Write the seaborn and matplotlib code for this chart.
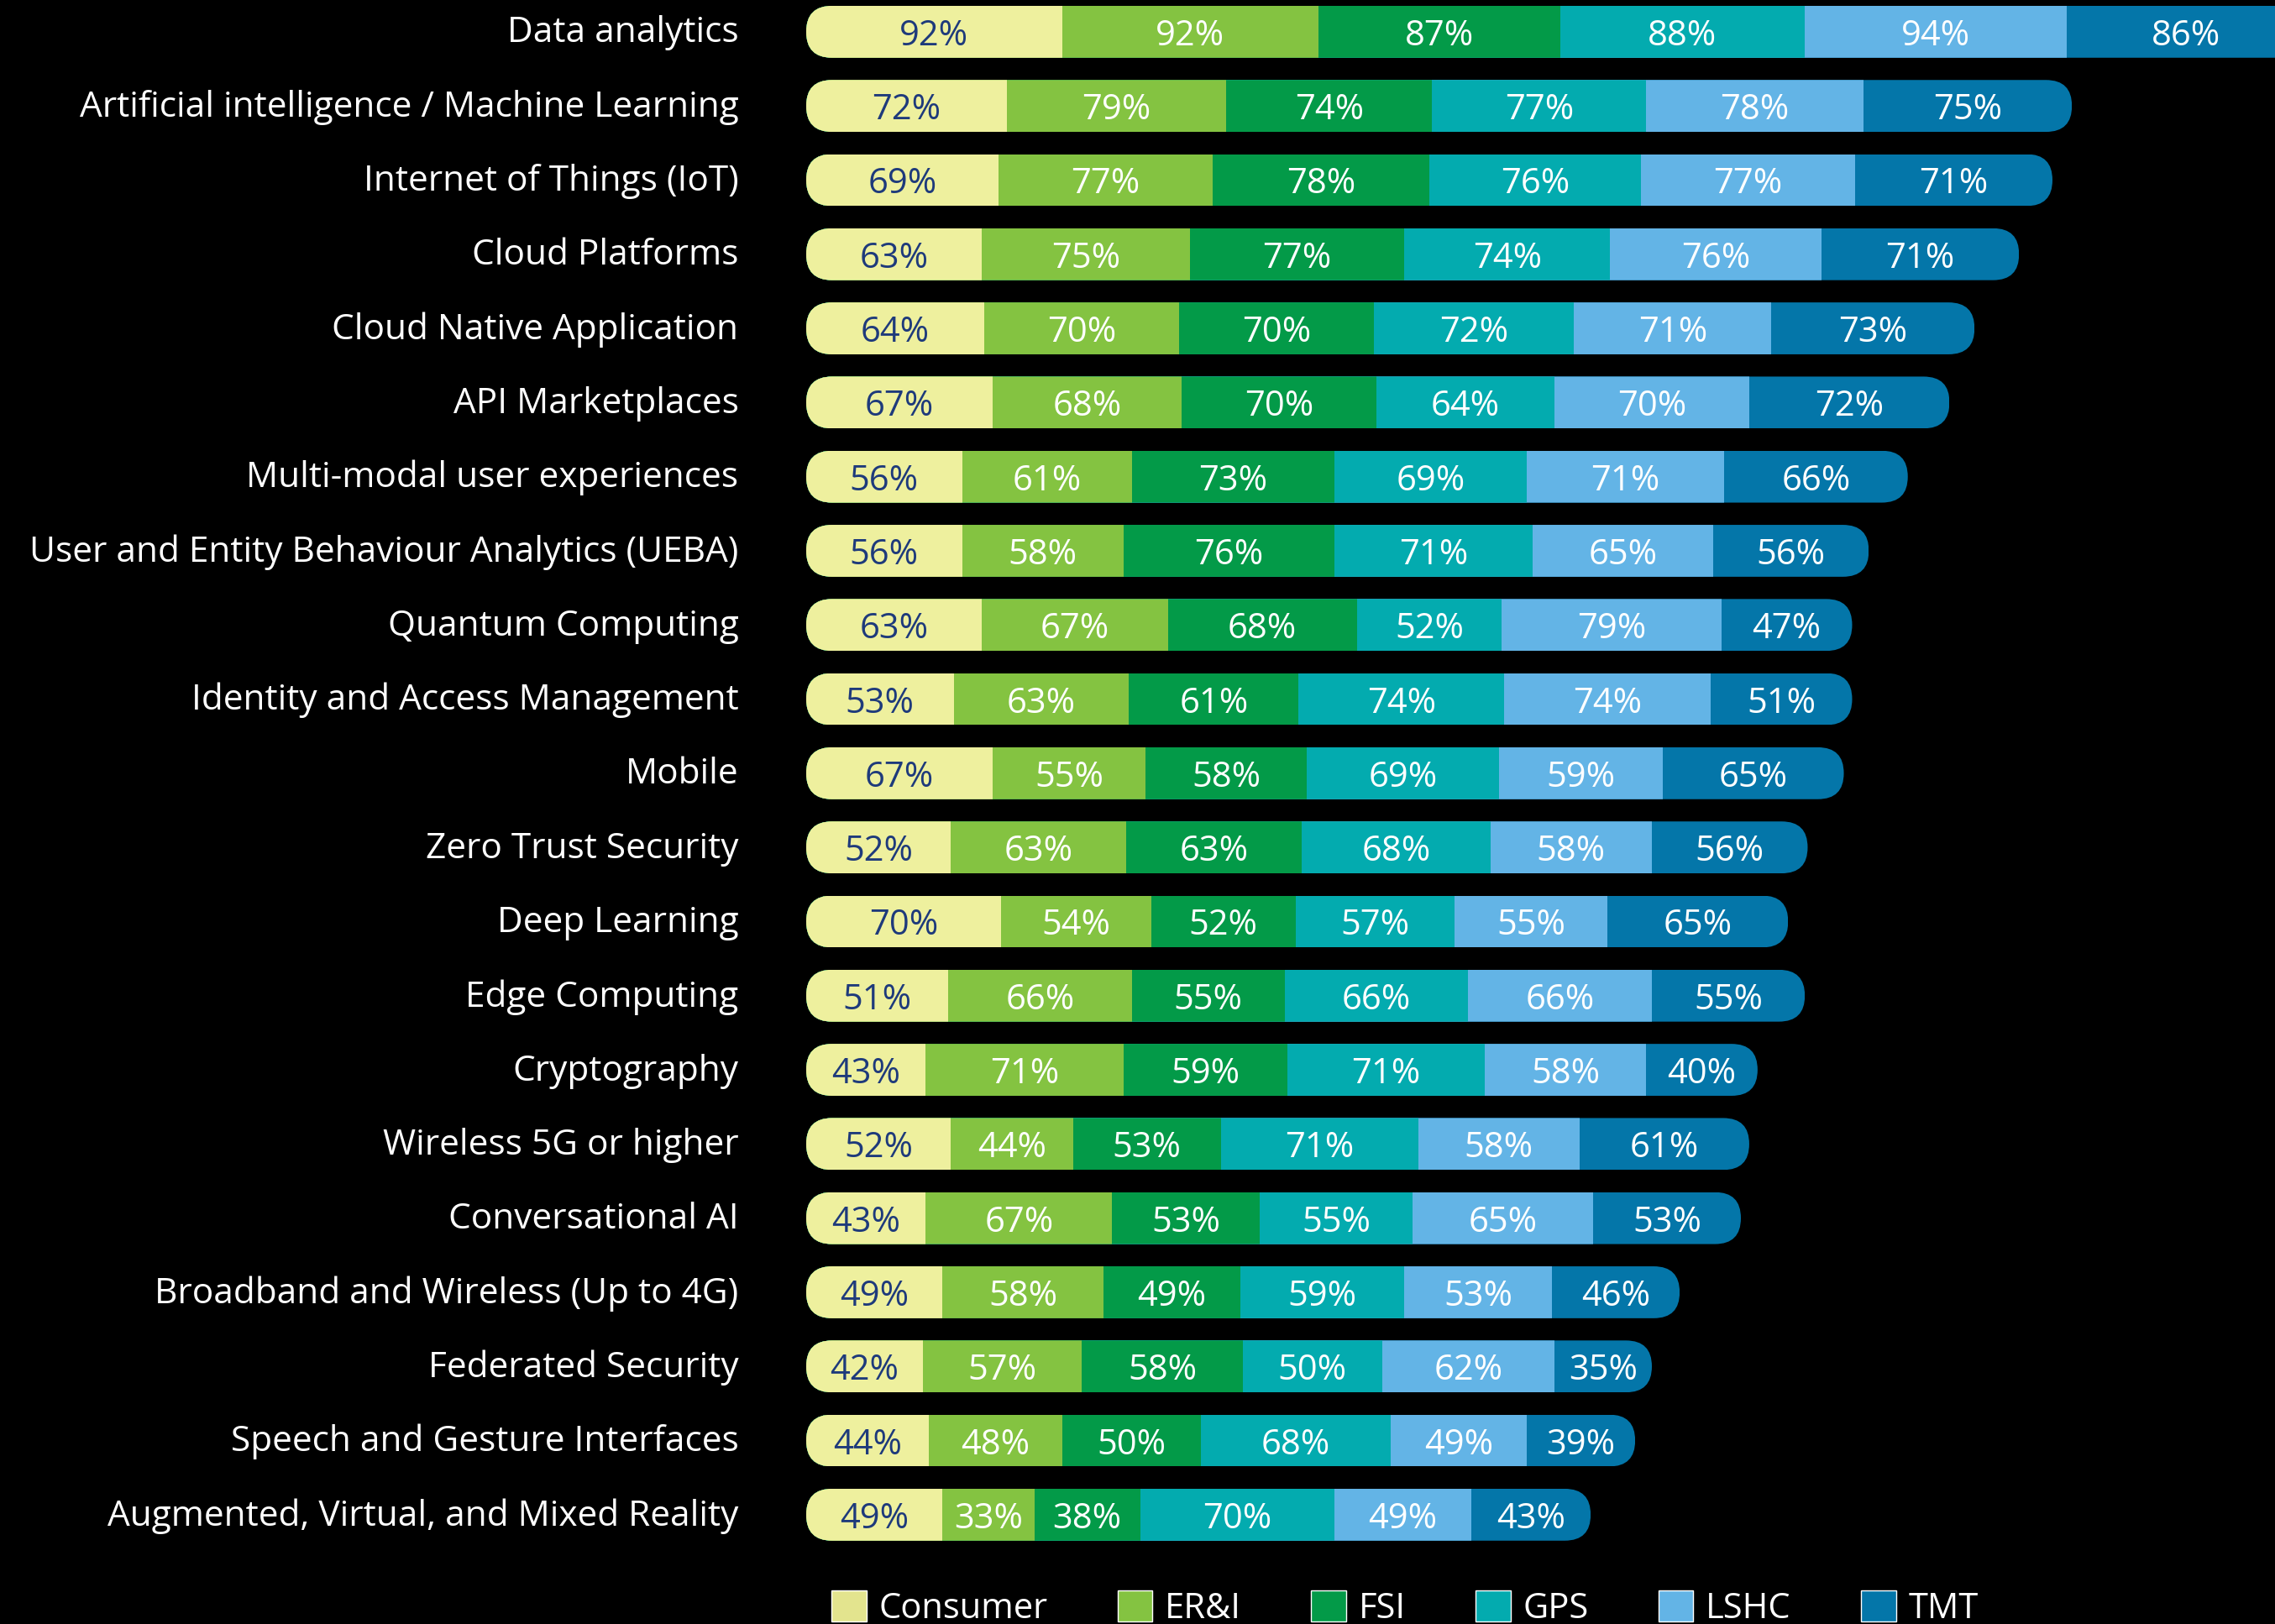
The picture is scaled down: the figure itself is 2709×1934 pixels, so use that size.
import matplotlib
matplotlib.use("Agg")
import matplotlib.pyplot as plt
import pandas as pd
import seaborn as sns
from matplotlib.patches import FancyBboxPatch, Patch
from matplotlib.transforms import ScaledTranslation

technologies = [
    "Data analytics",
    "Artificial intelligence / Machine Learning",
    "Internet of Things (IoT)",
    "Cloud Platforms",
    "Cloud Native Application",
    "API Marketplaces",
    "Multi-modal user experiences",
    "User and Entity Behaviour Analytics (UEBA)",
    "Quantum Computing",
    "Identity and Access Management",
    "Mobile",
    "Zero Trust Security",
    "Deep Learning",
    "Edge Computing",
    "Cryptography",
    "Wireless 5G or higher",
    "Conversational AI",
    "Broadband and Wireless (Up to 4G)",
    "Federated Security",
    "Speech and Gesture Interfaces",
    "Augmented, Virtual, and Mixed Reality",
]
consumer = [92, 72, 69, 63, 64, 67, 56, 56, 63, 53, 67, 52, 70, 51, 43, 52, 43, 49, 42, 44, 49]
eri      = [92, 79, 77, 75, 70, 68, 61, 58, 67, 63, 55, 63, 54, 66, 71, 44, 67, 58, 57, 48, 33]
fsi      = [87, 74, 78, 77, 70, 70, 73, 76, 68, 61, 58, 63, 52, 55, 59, 53, 53, 49, 58, 50, 38]
gps      = [88, 77, 76, 74, 72, 64, 69, 71, 52, 74, 69, 68, 57, 66, 71, 71, 55, 59, 50, 68, 70]
lshc     = [94, 78, 77, 76, 71, 70, 71, 65, 79, 74, 59, 58, 55, 66, 58, 58, 65, 53, 62, 49, 49]
tmt      = [86, 75, 71, 71, 73, 72, 66, 56, 47, 51, 65, 56, 65, 55, 40, 61, 53, 46, 35, 39, 43]

segments = ["Consumer", "ER&I", "FSI", "GPS", "LSHC", "TMT"]
seg_colors = ["#EEF09E", "#84C341", "#039A48", "#03ABAF", "#63B4E6", "#0476A9"]
legend_colors = ["#E3E48E", "#84C341", "#039A48", "#03ABAF", "#63B4E6", "#0476A9"]
label_colors = ["#1E3A7B", "white", "white", "white", "white", "white"]

df = pd.DataFrame({"tech": technologies, "Consumer": consumer, "ER&I": eri, "FSI": fsi,
                   "GPS": gps, "LSHC": lshc, "TMT": tmt})
cum = df[segments].cumsum(axis=1)

sns.set_theme(style="dark")
plt.rcParams["font.family"] = ["Open Sans", "DejaVu Sans"]

W, H = 2709, 1934
fig = plt.figure(figsize=(W / 100, H / 100), dpi=100, facecolor="black")
row_px = 88.3
ax = fig.add_axes([960 / W, 86 / H, (W - 960) / W, 21 * row_px / H])
ax.set_facecolor("black")

BAR_H = 0.7
# stacked bars: draw cumulative totals from the widest down
for seg, col in reversed(list(zip(segments, seg_colors))):
    sns.barplot(x=cum[seg], y=df["tech"], color=col, orient="h", width=BAR_H,
                linewidth=0, saturation=1, ax=ax)

ax.set_xlim(0, 528)
ax.set_ylim(len(technologies) - 0.5, -0.5)

# rounded (pill) outline per row, used as clip path
t0 = ax.transData.transform((0, 0))
t1 = ax.transData.transform((1, 1))
sx = abs(t1[0] - t0[0])
sy = abs(t1[1] - t0[1])
aspect = sx / sy
radius = BAR_H * sy / 2 / sx
totals = cum["TMT"].tolist()
clips = []
for i, tot in enumerate(totals):
    clip = FancyBboxPatch((0, i - BAR_H / 2), tot, BAR_H,
                          boxstyle=f"round,pad=0,rounding_size={radius}",
                          mutation_aspect=aspect, transform=ax.transData)
    clips.append(clip)
for cont in ax.containers:
    for i, bar in enumerate(cont):
        bar.set_clip_path(clips[i])

# value labels
for i in range(len(technologies)):
    left = 0
    for seg, lc in zip(segments, label_colors):
        v = df.loc[i, seg]
        ax.text(left + v / 2, i, f"{v}%", ha="center", va="center_baseline",
                color=lc, fontsize=30)
        left += v

ax.set_yticks(range(len(technologies)))
ax.set_yticklabels(technologies, color="white", fontsize=30.5)
ax.tick_params(axis="y", length=0, pad=58)
lift = ScaledTranslation(0, 2.5 / 72, fig.dpi_scale_trans)
for lab in ax.get_yticklabels():
    lab.set_transform(lab.get_transform() + lift)
ax.set_xticks([])
ax.set_xlabel("")
ax.set_ylabel("")
for s in ax.spines.values():
    s.set_visible(False)
ax.grid(False)

handles = [Patch(facecolor=c, label=s) for s, c in zip(segments, legend_colors)]
fig.legend(handles=handles, loc="upper left", bbox_to_anchor=(990 / W, 40 / H),
           ncol=6, frameon=False, fontsize=30, labelcolor="white",
           handlelength=1.0, handleheight=1.0, handletextpad=0.35,
           columnspacing=2.0, borderpad=0, borderaxespad=0)

fig.savefig("out.png", dpi=100, facecolor="black")
